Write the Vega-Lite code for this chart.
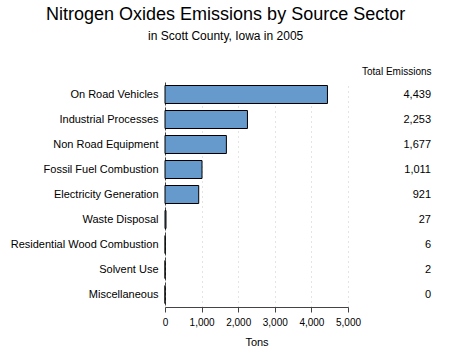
{
  "$schema": "https://vega.github.io/schema/vega-lite/v6.json",
  "padding": {"left": 10, "top": 6, "right": 5, "bottom": 5},
  "background": "white",
  "title": {
    "text": "Nitrogen Oxides Emissions by Source Sector",
    "subtitle": "in Scott County, Iowa in 2005",
    "fontSize": 18,
    "fontWeight": "normal",
    "font": "Liberation Sans",
    "subtitleFont": "Liberation Sans",
    "subtitleFontSize": 12,
    "subtitlePadding": 7,
    "anchor": "middle",
    "dx": 5,
    "offset": 24,
    "color": "black",
    "subtitleColor": "black"
  },
  "data": {
    "values": [
      {"sector": "On Road Vehicles", "tons": 4439, "label": "4,439"},
      {"sector": "Industrial Processes", "tons": 2253, "label": "2,253"},
      {"sector": "Non Road Equipment", "tons": 1677, "label": "1,677"},
      {"sector": "Fossil Fuel Combustion", "tons": 1011, "label": "1,011"},
      {"sector": "Electricity Generation", "tons": 921, "label": "921"},
      {"sector": "Waste Disposal", "tons": 27, "label": "27"},
      {"sector": "Residential Wood Combustion", "tons": 6, "label": "6"},
      {"sector": "Solvent Use", "tons": 2, "label": "2"},
      {"sector": "Miscellaneous", "tons": 0.3, "label": "0"}
    ]
  },
  "spacing": 0,
  "hconcat": [
    {
      "width": 183,
      "height": 225,
      "mark": {"type": "bar", "fill": "#6699cc", "stroke": "black", "strokeWidth": 1},
      "encoding": {
        "y": {
          "field": "sector",
          "type": "nominal",
          "sort": {"field": "tons", "order": "descending"},
          "scale": {"paddingInner": 0.28, "paddingOuter": 0.14},
          "axis": {
            "title": null,
            "ticks": false,
            "labelPadding": 7,
            "labelFontSize": 11,
            "labelFont": "Liberation Sans",
            "labelColor": "black",
            "labelLimit": 300,
            "domainColor": "#444",
            "domainDash": [3, 2],
            "domainWidth": 1
          }
        },
        "x": {
          "field": "tons",
          "type": "quantitative",
          "scale": {"domain": [0, 5000], "nice": false},
          "axis": {
            "title": "Tons",
            "titleFontWeight": "normal",
            "titleFontSize": 11,
            "titleFont": "Liberation Sans",
            "titleColor": "black",
            "titlePadding": 9,
            "values": [0, 1000, 2000, 3000, 4000, 5000],
            "format": ",d",
            "labelOverlap": false,
            "labelFlush": false,
            "labelFontSize": 10,
            "labelFont": "Liberation Sans",
            "labelColor": "black",
            "labelPadding": 5,
            "tickColor": "#444",
            "tickSize": 5,
            "domainColor": "#444",
            "grid": true,
            "gridColor": "#c8c8c8",
            "gridDash": [1, 4]
          }
        }
      }
    },
    {
      "width": 66,
      "height": 225,
      "mark": {"type": "text", "align": "right", "dx": 33, "fontSize": 11, "font": "Liberation Sans", "color": "black"},
      "encoding": {
        "y": {
          "field": "sector",
          "type": "nominal",
          "sort": {"field": "tons", "order": "descending"},
          "scale": {"paddingInner": 0.28, "paddingOuter": 0.14},
          "axis": null
        },
        "x": {
          "datum": "Total Emissions",
          "type": "nominal",
          "scale": {"paddingInner": 0, "paddingOuter": 0},
          "axis": {
            "orient": "top",
            "title": null,
            "domain": false,
            "ticks": false,
            "labelAlign": "right",
            "labelOffset": 33,
            "labelPadding": 6,
            "labelFontSize": 10,
            "labelFont": "Liberation Sans",
            "labelColor": "black",
            "labelAngle": 0
          }
        },
        "text": {"field": "label", "type": "nominal"}
      }
    }
  ],
  "resolve": {"scale": {"y": "independent"}},
  "config": {"view": {"stroke": null}}
}
